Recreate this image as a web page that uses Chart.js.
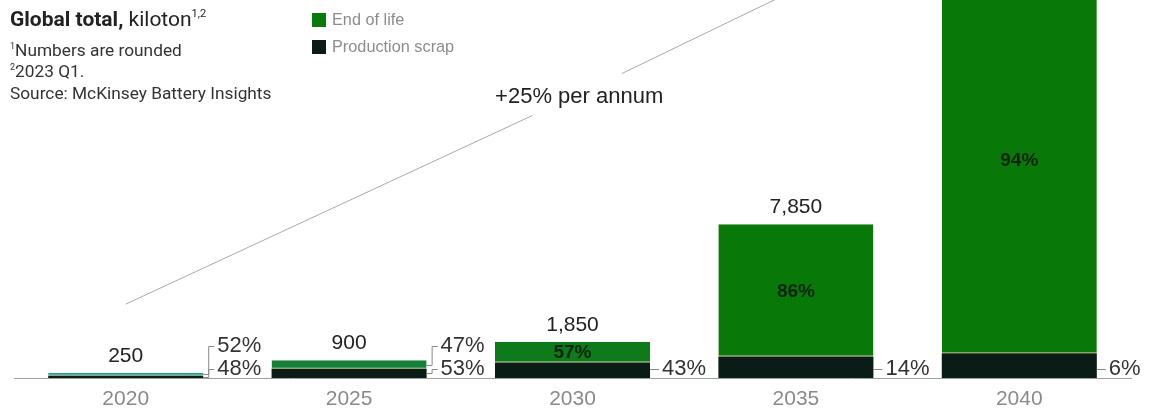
<!DOCTYPE html>
<html>
<head>
<meta charset="utf-8">
<script src="https://cdn.jsdelivr.net/npm/chart.js@4.4.1/dist/chart.umd.min.js"></script>
<style>
  html, body { margin: 0; padding: 0; background: #ffffff; }
  #wrap { position: relative; width: 1162px; height: 415px; overflow: hidden; }
  #wrap canvas { position: absolute; left: 0; top: 0; }
  .ov { position: absolute; white-space: nowrap; font-family: Roboto, "Liberation Sans", sans-serif; color: #222; }
  #title { left: 10px; top: 7px; font-size: 21px; }
  #title b { font-weight: 700; }
  #title sup { font-size: 11px; vertical-align: 9px; }
  .fn { left: 10px; font-size: 17.3px; color: #333; }
  .fn sup { font-size: 9px; vertical-align: 7px; }
  .lg { left: 312px; font-family: "Liberation Sans", sans-serif; font-size: 16.3px; color: #8c8c8c; }
  .lg i { display: inline-block; width: 14px; height: 14px; vertical-align: -2px; margin-right: 6px; }
</style>
</head>
<body>
<div id="wrap">
  <canvas id="c" width="1162" height="415"></canvas>
  <div class="ov" id="title"><b>Global total,</b> kiloton<sup>1,2</sup></div>
  <div class="ov fn" style="top:40px"><sup>1</sup>Numbers are rounded</div>
  <div class="ov fn" style="top:61px"><sup>2</sup>2023 Q1.</div>
  <div class="ov fn" style="top:83px">Source: McKinsey Battery Insights</div>
  <div class="ov lg" style="top:10px"><i style="background:#0a7a0a"></i>End of life</div>
  <div class="ov lg" style="top:37px"><i style="background:#0b1c16"></i>Production scrap</div>
</div>
<script>
// ---- data (kiloton) ----
const categories = ['2020', '2025', '2030', '2035', '2040'];
const categoryIndex = [0, 1, 2, 3, 4];
const productionScrap = [120, 477, 796, 1099, 1260];
const endOfLife = [130, 423, 1054, 6751, 19740];
const totalLabels = ['250', '900', '1,850', '7,850', ''];
const endOfLifeShare = ['52%', '47%', '57%', '86%', '94%'];
const scrapShare = ['48%', '53%', '43%', '14%', '6%'];
// trend annotation "+25% per annum" (x in category index units, y in kiloton)
const trendX = [0, 1.82, 1.9, 2.22, 2.95];
const trendY = [3770, 13400, null, 15540, 19560];
const trendText = '+25% per annum';

const eolColors = ['#1a9ea6', '#167f3a', '#0d7a1c', '#087808', '#087808'];
const scrapColor = '#0b1c16';
const Y_MAX = 19300;

const labelPlugin = {
  id: 'labels',
  afterDatasetsDraw(chart) {
    const ctx = chart.ctx;
    const x = chart.scales.x, y = chart.scales.y;
    const mScrap = chart.getDatasetMeta(0);
    const base = y.getPixelForValue(0);
    ctx.save();
    ctx.textBaseline = 'middle';
    // trend text
    ctx.font = '22px "Liberation Sans", sans-serif';
    ctx.fillStyle = '#222';
    ctx.textAlign = 'center';
    ctx.fillText(trendText, x.getPixelForValue(2.03), chart.scales.yt.getPixelForValue(14700) + 7);

    categories.forEach((c, i) => {
      const bs = mScrap.data[i];
      const right = bs.x + bs.width / 2;
      const cx = bs.x;
      const scrapTop = y.getPixelForValue(productionScrap[i]);
      const topPx = y.getPixelForValue(productionScrap[i] + endOfLife[i]);
      if (totalLabels[i]) {
        ctx.font = '21px "Liberation Sans", sans-serif';
        ctx.fillStyle = '#222';
        ctx.textAlign = 'center';
        ctx.fillText(totalLabels[i], cx, topPx - 17);
      }
      const scrapMid = (scrapTop + base) / 2;
      const eolMid = (topPx + scrapTop) / 2;
      const lbY = base - 9;
      ctx.strokeStyle = '#888';
      ctx.lineWidth = 1;
      ctx.font = '22px "Liberation Sans", sans-serif';
      ctx.fillStyle = '#333';
      ctx.textAlign = 'left';
      if (i < 2) {
        const lgY = base - 32;
        ctx.beginPath();
        ctx.moveTo(right, Math.round(eolMid) + 0.5);
        ctx.lineTo(right + 5.5, Math.round(eolMid) + 0.5);
        ctx.lineTo(right + 5.5, lgY + 0.5);
        ctx.lineTo(right + 11, lgY + 0.5);
        ctx.moveTo(right, Math.round(scrapMid) + 0.5);
        ctx.lineTo(right + 5.5, Math.round(scrapMid) + 0.5);
        ctx.lineTo(right + 5.5, lbY + 0.5);
        ctx.lineTo(right + 11, lbY + 0.5);
        ctx.stroke();
        ctx.fillText(endOfLifeShare[i], right + 14, lgY);
        ctx.fillText(scrapShare[i], right + 14, lbY);
      } else {
        ctx.beginPath();
        ctx.moveTo(right, lbY + 0.5);
        ctx.lineTo(right + 9, lbY + 0.5);
        ctx.stroke();
        ctx.fillText(scrapShare[i], right + 12, lbY);
        ctx.font = 'bold 19px "Liberation Sans", sans-serif';
        ctx.fillStyle = '#0a240c';
        ctx.textAlign = 'center';
        ctx.fillText(endOfLifeShare[i], cx, eolMid + 1);
      }
    });
    ctx.restore();
  }
};

new Chart(document.getElementById('c'), {
  type: 'bar',
  data: {
    datasets: [
      {
        label: 'Production scrap',
        data: categoryIndex.map((v, k) => ({ x: v, y: productionScrap[k] })),
        backgroundColor: scrapColor,
        borderWidth: 0,
        stack: 'total',
        categoryPercentage: 1,
        barPercentage: 0.694
      },
      {
        label: 'End of life',
        data: categoryIndex.map((v, k) => ({ x: v, y: endOfLife[k] })),
        backgroundColor: eolColors,
        borderColor: '#9aa83a',
        borderWidth: { top: 0, left: 0, right: 0, bottom: 1 },
        borderSkipped: false,
        stack: 'total',
        categoryPercentage: 1,
        barPercentage: 0.694
      },
      {
        type: 'line',
        label: 'trend',
        data: trendX.map((v, k) => ({ x: v, y: trendY[k] })),
        yAxisID: 'yt',
        stack: 'trend',
        borderColor: '#a8a8a8',
        borderWidth: 1,
        pointRadius: 0,
        spanGaps: false
      }
    ]
  },
  options: {
    responsive: false,
    animation: false,
    layout: { padding: { left: 14, right: 31, top: 0, bottom: 2 } },
    plugins: { legend: { display: false }, tooltip: { enabled: false } },
    scales: {
      x: {
        type: 'linear',
        stacked: true,
        offset: false,
        min: -0.5,
        max: 4.5,
        grid: { display: false, drawTicks: false, offset: false },
        border: { display: true, color: '#a0a0a0', width: 1 },
        afterBuildTicks: (axis) => { axis.ticks = categoryIndex.map(v => ({ value: v })); },
        afterFit: (axis) => { axis.height = 35; },
        ticks: {
          color: '#8a8a8a', padding: 9, autoSkip: false, maxRotation: 0,
          font: { family: '"Liberation Sans", sans-serif', size: 21 },
          callback: (v) => categories[v]
        }
      },
      y: { stacked: true, display: false, min: 0, max: Y_MAX },
      yt: { type: 'linear', display: false, min: 0, max: Y_MAX }
    }
  },
  plugins: [labelPlugin]
});
</script>
</body>
</html>
